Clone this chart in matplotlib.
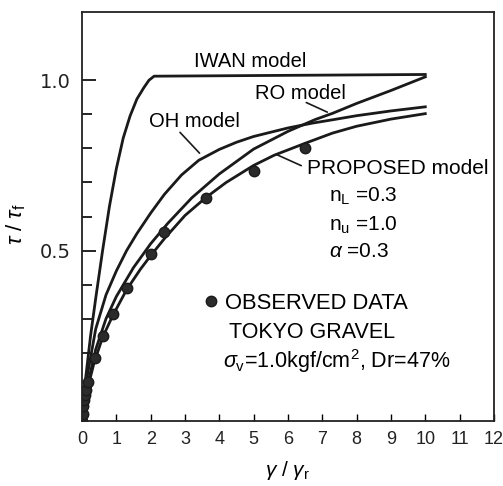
import numpy as np
import matplotlib
matplotlib.use('Agg')
import matplotlib.pyplot as plt

plt.rcParams['font.family'] = ['Liberation Sans', 'DejaVu Sans']
plt.rcParams['mathtext.fontset'] = 'custom'
plt.rcParams['mathtext.rm'] = 'Liberation Sans'
plt.rcParams['mathtext.it'] = 'Liberation Sans:italic'

# curves (gamma/gamma_r , tau/tau_f)
iwan_x = [0, 0.1, 0.25, 0.4, 0.6, 0.8, 1.0, 1.2, 1.4, 1.6, 1.8, 1.95, 2.1, 10.0]
iwan_y = [0, 0.12, 0.25, 0.36, 0.5, 0.63, 0.74, 0.83, 0.895, 0.945, 0.978, 1.0, 1.012, 1.017]

oh_x = [0, 0.15, 0.4, 0.7, 1.0, 1.3, 1.6, 2.0, 2.4, 2.9, 3.4, 4.0, 4.5, 5.0, 6.0, 6.7, 7.3, 8.0, 9.0, 10.0]
oh_y = [0, 0.13, 0.27, 0.37, 0.44, 0.5, 0.55, 0.61, 0.665, 0.722, 0.765, 0.797, 0.818, 0.835, 0.86, 0.874, 0.884, 0.896, 0.91, 0.922]

ro_x = [0, 0.15, 0.4, 0.7, 1.0, 1.5, 2.0, 2.5, 3.2, 4.0, 5.0, 6.0, 6.8, 7.3, 8.0, 9.0, 10.0]
ro_y = [0, 0.1, 0.21, 0.3, 0.365, 0.45, 0.52, 0.58, 0.655, 0.725, 0.798, 0.85, 0.885, 0.903, 0.932, 0.97, 1.01]

prop_x = [0, 0.15, 0.35, 0.6, 0.9, 1.3, 1.7, 2.0, 2.4, 3.0, 3.6, 4.2, 5.0, 5.6, 6.5, 7.3, 8.0, 9.0, 10.0]
prop_y = [0, 0.09, 0.17, 0.245, 0.31, 0.385, 0.445, 0.485, 0.535, 0.603, 0.655, 0.7, 0.75, 0.78, 0.815, 0.845, 0.865, 0.886, 0.902]

# observed data, Tokyo gravel
obs_x = [0.0, 0.02, 0.04, 0.06, 0.08, 0.12, 0.17, 0.37, 0.6, 0.9, 1.3, 2.0, 2.4, 3.6, 5.0, 6.5]
obs_y = [0.0, 0.02, 0.045, 0.06, 0.075, 0.09, 0.115, 0.185, 0.25, 0.315, 0.39, 0.49, 0.555, 0.655, 0.735, 0.80]

x_ticks = list(range(0, 13))
y_major = [0.5, 1.0]
y_minor = [0.1, 0.2, 0.3, 0.4, 0.6, 0.7, 0.8, 0.9]

fig = plt.figure(figsize=(5.03, 4.86), dpi=100)
ax = fig.add_axes([0.163, 0.134, 0.819, 0.841])

lc = '#1a1a1a'
lw = 2.0
ax.plot(iwan_x, iwan_y, c=lc, lw=lw)
ax.plot(oh_x, oh_y, c=lc, lw=lw)
ax.plot(ro_x, ro_y, c=lc, lw=lw)
ax.plot(prop_x, prop_y, c=lc, lw=lw)
obs, = ax.plot(obs_x, obs_y, 'o', c='#2b2b2b', ms=7.5, mec='#1a1a1a', label='OBSERVED DATA')

ax.set_xlim(0, 12)
ax.set_ylim(0, 1.2)
ax.set_xticks(x_ticks)
ax.set_yticks(y_major)
ax.set_yticks(y_minor, minor=True)
ax.set_yticklabels(['0.5', '1.0'])
ax.tick_params(axis='x', direction='in', length=5, width=1, pad=7, labelsize=13)
ax.tick_params(axis='y', which='major', direction='in', length=10, width=1.2, pad=8, labelsize=14)
ax.tick_params(axis='y', which='minor', direction='in', length=7, width=1.2)
for lab in ax.get_yticklabels():
    lab.set_family('DejaVu Sans')
for lab in ax.get_xticklabels() + ax.get_yticklabels():
    lab.set_color('#222222')
for s in ax.spines.values():
    s.set_linewidth(1.3)
    s.set_color('#222222')

ax.set_xlabel(r'$\gamma$ / $\gamma_{\rm r}$', fontsize=15, labelpad=8)
ax.set_ylabel(r'$\tau$ / $\tau_{\rm f}$', fontsize=16)
ax.yaxis.set_label_coords(-0.13, 0.48)

fs = 14.5
ax.text(3.27, 1.056, 'IWAN model', fontsize=fs, va='center')
ax.text(5.03, 0.962, 'RO model', fontsize=fs, va='center')
ax.text(1.96, 0.879, 'OH model', fontsize=fs, va='center')
ax.text(6.55, 0.741, 'PROPOSED model', fontsize=15, va='center')
ax.text(7.19, 0.66, r'n$_{\rm L}$ =0.3', fontsize=15, va='center')
ax.text(7.19, 0.575, r'n$_{\rm u}$ =1.0', fontsize=15, va='center')
ax.text(7.19, 0.496, r'$\alpha$ =0.3', fontsize=15, va='center')

ax.annotate('', xy=(3.48, 0.78), xytext=(2.8, 0.853),
            arrowprops=dict(arrowstyle='-', lw=1.2, color=lc))
ax.annotate('', xy=(7.22, 0.903), xytext=(6.46, 0.938),
            arrowprops=dict(arrowstyle='-', lw=1.2, color=lc))
ax.annotate('', xy=(5.6, 0.785), xytext=(6.46, 0.746),
            arrowprops=dict(arrowstyle='-', lw=1.2, color=lc))

leg = ax.legend(handles=[obs], loc='center left', bbox_to_anchor=(0.298, 0.287),
                frameon=False, fontsize=15.8, handlelength=0.6, handletextpad=0.3,
                borderpad=0, borderaxespad=0)
ax.text(4.27, 0.26, 'TOKYO GRAVEL', fontsize=15.5, va='center')
ax.text(4.12, 0.177, r'$\sigma_{\rm v}$=1.0kgf/cm$^2$, Dr=47%', fontsize=15.5, va='center')

fig.savefig('out.png', dpi=100)
